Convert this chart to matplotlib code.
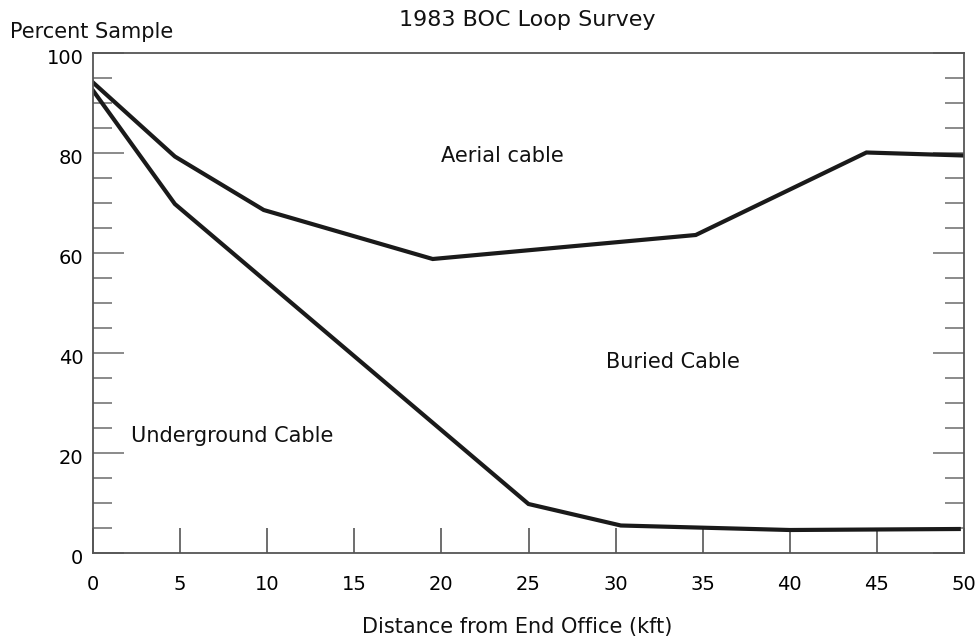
import numpy as np
import matplotlib.pyplot as plt
from matplotlib.transforms import ScaledTranslation

# boundary between aerial and buried cable
aerial_x = [0, 4.7, 9.8, 19.5, 34.6, 44.4, 50]
aerial_y = [94.1, 79.3, 68.6, 58.8, 63.6, 80.1, 79.5]

# boundary between buried and underground cable
under_x = [0, 4.7, 25.0, 30.3, 40.0, 49.7]
under_y = [92.5, 69.8, 9.8, 5.5, 4.6, 4.8]

region_labels = ['Aerial cable', 'Buried Cable', 'Underground Cable']
region_pos = [(23.5, 79.5), (33.3, 38.2), (8.0, 23.4)]

plt.rcParams['font.family'] = ['DejaVu Sans']
fig = plt.figure(figsize=(9.78, 6.39), dpi=100)
ax = fig.add_axes([93 / 978, 1 - 553 / 639, 871 / 978, 500 / 639])

ax.plot(aerial_x, aerial_y, color='#1a1a1a', lw=3.0, solid_joinstyle='miter')
ax.plot(under_x, under_y, color='#1a1a1a', lw=3.0, solid_joinstyle='miter')

for txt, (x, y) in zip(region_labels, region_pos):
    ax.text(x, y, txt, ha='center', va='center', fontsize=15, color='#111111')

ax.set_xlim(0, 50)
ax.set_ylim(0, 100)
ax.set_xticks(np.arange(0, 51, 5))
ax.set_yticks(np.arange(0, 101, 20))
ax.set_yticks(np.arange(0, 101, 5), minor=True)

for s in ax.spines.values():
    s.set_color('#555555')
    s.set_linewidth(1.3)

ax.tick_params(axis='x', direction='in', length=18, width=1.2, color='#555555',
               pad=16, labelsize=14)
ax.tick_params(axis='y', which='major', direction='in', length=22, width=1.2,
               color='#777777', pad=7, labelsize=14, right=True)
ax.tick_params(axis='y', which='minor', direction='in', length=14, width=1.2,
               color='#777777', right=True)

# y labels sit a little below their ticks
shift = ScaledTranslation(0, -4 / 100, fig.dpi_scale_trans)
for lbl in ax.get_yticklabels():
    lbl.set_transform(lbl.get_transform() + shift)

fig.text(527 / 978, 1 - 20 / 639, '1983 BOC Loop Survey', ha='center', va='center',
         fontsize=16, color='#111111')
fig.text(10 / 978, 1 - 32 / 639, 'Percent Sample', ha='left', va='center',
         fontsize=15, color='#111111')
fig.text(517 / 978, 1 - 627 / 639, 'Distance from End Office (kft)', ha='center',
         va='center', fontsize=15, color='#111111')

fig.savefig('out.png', dpi=100)
